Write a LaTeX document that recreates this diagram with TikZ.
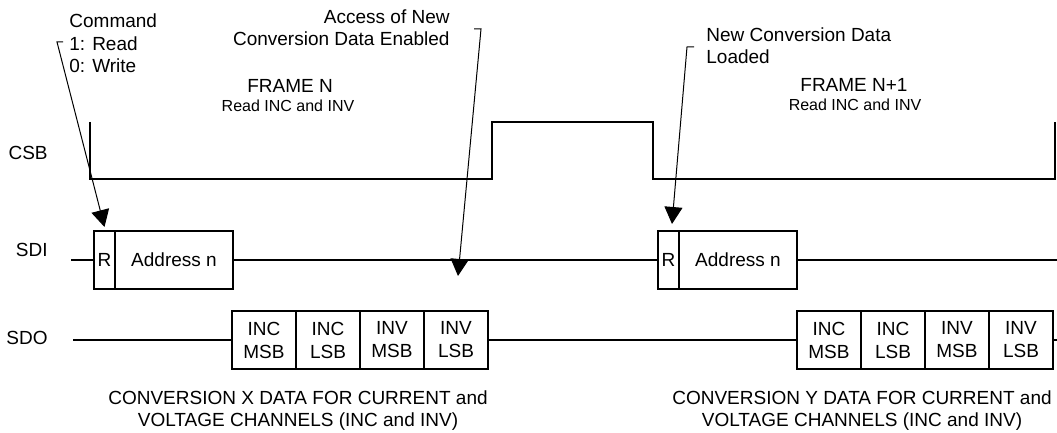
\documentclass[tikz,border=0pt]{standalone}
\usepackage{fontspec}
\setmainfont{Liberation Sans}
\usetikzlibrary{positioning}
\usetikzlibrary{arrows.meta}

\tikzset{
  lbl/.style={inner sep=0pt, font=\fontsize{9.5}{11.25}\selectfont},
  small/.style={inner sep=0pt, font=\fontsize{8}{9.5}\selectfont},
  wave/.style={line width=1.4pt},
  field/.style={draw, line width=1.4pt, inner sep=0pt, outer sep=0pt, minimum height=29pt, font=\fontsize{9.5}{11.5}\selectfont, align=center},
  byte/.style={field, minimum width=32pt},
  leader/.style={line width=0.5pt, -{Triangle[length=8.5pt,width=9pt]}}
}

\begin{document}
\begin{tikzpicture}[x=0.5pt, y=-0.5pt]
\useasboundingbox (0,0) rectangle (1057,433);
% Signal names
\node[lbl, anchor=base east] (csb) at (48,160) {CSB};
\node[lbl, anchor=base east] (sdi) at (48,257) {SDI};
\node[lbl, anchor=base east] (sdo) at (48,344) {SDO};
% CSB
\draw[wave] (90,122) -- (90,179) -- (492,179) -- (492,122) -- (653,122) -- (653,179) -- (1055,179) -- (1055,122);
% SDI frames
\node[field, minimum width=10.5pt, anchor=west] (r1) at (94,260) {R};
\node[field, minimum width=59pt, right=0pt of r1] (addr1) {Address n};
\node[field, minimum width=10.5pt, anchor=west] (r2) at (658,260) {R};
\node[field, minimum width=59pt, right=0pt of r2] (addr2) {Address n};
\draw[wave] (71,260) -- (r1.west);
\draw[wave] (addr1.east) -- (r2.west);
\draw[wave] (addr2.east) -- (1057,260);
% SDO data X
\node[byte, anchor=west] (x1) at (232,340) {INC\\MSB};
\node[byte, right=0pt of x1] (x2) {INC\\LSB};
\node[byte, right=0pt of x2] (x3) {INV\\MSB};
\node[byte, right=0pt of x3] (x4) {INV\\LSB};
% SDO data Y
\node[byte, anchor=west] (y1) at (797,340) {INC\\MSB};
\node[byte, right=0pt of y1] (y2) {INC\\LSB};
\node[byte, right=0pt of y2] (y3) {INV\\MSB};
\node[byte, right=0pt of y3] (y4) {INV\\LSB};
\draw[wave] (73,340) -- (x1.west);
\draw[wave] (x4.east) -- (y1.west);
\draw[wave] (y4.east) -- (1057,340);
% Frames
\node[lbl, anchor=base] (frameN) at (290,93) {FRAME N};
\node[small, anchor=base] (readN) at (288,112) {Read INC and INV};
\node[lbl, anchor=base] (frameN1) at (854,92) {FRAME N+1};
\node[small, anchor=base] (readN1) at (855,111) {Read INC and INV};
% Callouts
\node[lbl, anchor=base west, align=left] (cmd) at (69,73) {Command\\1: Read\\0: Write};
\node[lbl, anchor=base east, align=right] (access) at (450,46) {Access of New\\Conversion Data Enabled};
\node[lbl, anchor=base west, align=left] (loaded) at (706,64) {New Conversion Data\\Loaded};
\coordinate (cmdhook) at (57,42);
\coordinate (accesshook) at (481,29);
\coordinate (accesstip) at (458,276);
\coordinate (loadhook) at (687,47);
\coordinate (loadtip) at (672,224);
\draw[leader] (63,42) -- (cmdhook) -- ([yshift=2pt]r1.north);
\draw[leader] (474,29) -- (accesshook) -- (accesstip);
\draw[leader] (694,47) -- (loadhook) -- (loadtip);
% Data captions
\node[lbl, anchor=base, align=center] (convX) at (298,427) {CONVERSION X DATA FOR CURRENT and\\VOLTAGE CHANNELS (INC and INV)};
\node[lbl, anchor=base, align=center] (convY) at (862,427) {CONVERSION Y DATA FOR CURRENT and\\VOLTAGE CHANNELS (INC and INV)};
\end{tikzpicture}
\end{document}
